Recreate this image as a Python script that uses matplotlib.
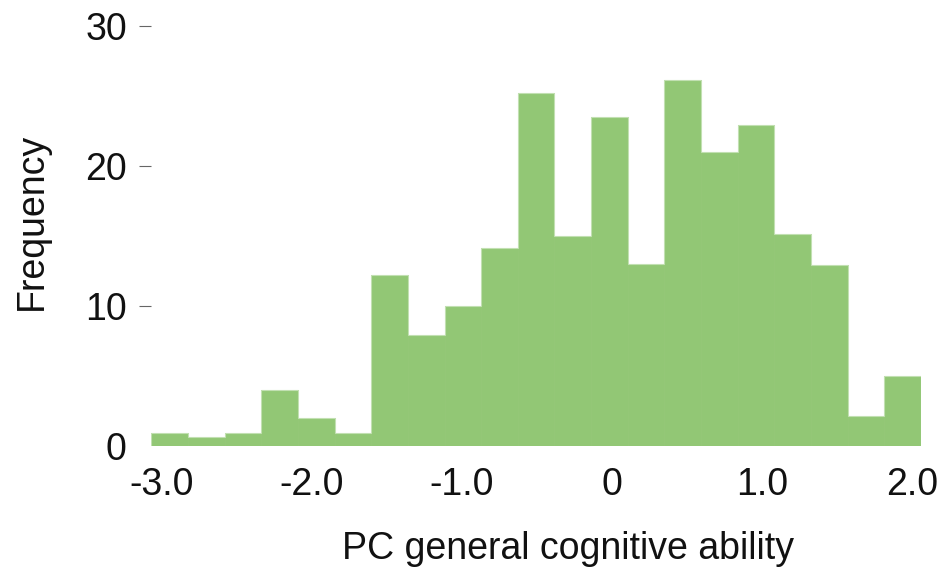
import numpy as np
import matplotlib
matplotlib.use("Agg")
import matplotlib.pyplot as plt

plt.rcParams['font.family'] = ['Liberation Sans', 'DejaVu Sans']

# Histogram of the PC general cognitive ability score
bin_lo, bin_hi, n_bins = -3.071, 2.06, 21
counts = [0.9, 0.6, 0.9, 4.0, 2.0, 0.9, 12.2, 7.9, 10.0, 14.1, 25.2,
          15.0, 23.5, 13.0, 26.1, 21.0, 22.9, 15.1, 12.9, 2.1, 5.0]

x_ticks = [-3.0, -2.0, -1.0, 0.0, 1.0, 2.0]
x_tick_labels = ['-3.0', '-2.0', '-1.0', '0', '1.0', '2.0']
y_ticks = [0, 10, 20, 30]
y_tick_labels = ['0', '10', '20', '30']

edges = np.linspace(bin_lo, bin_hi, n_bins + 1)

fig = plt.figure(figsize=(9.4, 5.68), dpi=100)
ax = fig.add_axes([151.3 / 940, 1 - 445.7 / 568, 769.7 / 940, 420 / 568])

ax.bar(edges[:-1], counts, width=np.diff(edges), align='edge',
       color='#92c775', edgecolor='#92c775', linewidth=0.5)
# pale outline around the histogram
ax.stairs(counts, edges, baseline=0, fill=False, color='#c2e0b2', linewidth=0.8)

ax.set_xlim(bin_lo, bin_hi)
ax.set_ylim(0, 30)

for s in ax.spines.values():
    s.set_visible(False)

ax.set_xticks(x_ticks)
ax.set_xticklabels(x_tick_labels)
ax.tick_params(axis='x', length=0, pad=15, labelsize=27, labelcolor='#111111')

ax.set_yticks(y_ticks)
ax.set_yticklabels(y_tick_labels)
ax.tick_params(axis='y', direction='out', length=8.6, width=0.8,
               color='#666666', pad=9, labelsize=27, labelcolor='#111111')
# the zero tick has no dash
ax.yaxis.get_major_ticks()[0].tick1line.set_visible(False)

ax.set_xlabel('PC general cognitive ability', fontsize=27, color='#111111')
ax.xaxis.label.set_va('center')
ax.xaxis.set_label_coords(0.5414, -0.246)

ax.set_ylabel('Frequency', fontsize=27, color='#111111')
ax.yaxis.label.set_va('center')
ax.yaxis.set_label_coords(-0.155, 0.535)

fig.savefig('out.png', dpi=100)
